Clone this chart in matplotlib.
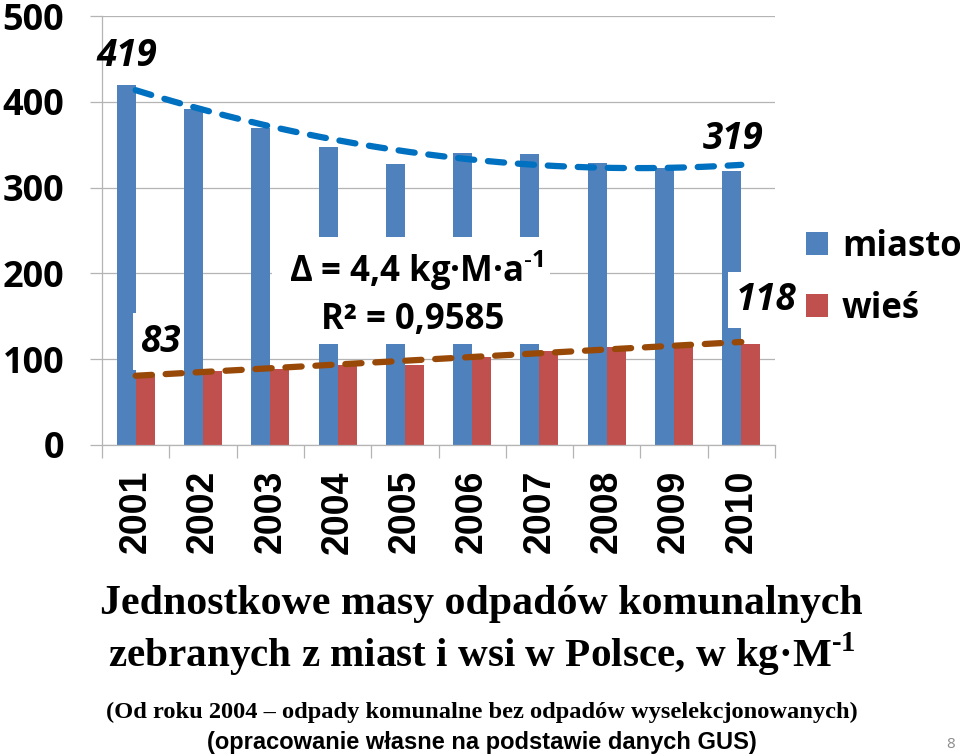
import numpy as np
import matplotlib
matplotlib.use('Agg')
import matplotlib.pyplot as plt
from matplotlib.patches import Rectangle

# ---- data ----
years = ['2001', '2002', '2003', '2004', '2005', '2006', '2007', '2008', '2009', '2010']
miasto = [419, 392, 369, 347, 328, 340, 339, 329, 323, 319]
wies = [83, 86, 88, 93, 93, 102, 110, 114, 117, 118]
y_ticks = [0, 100, 200, 300, 400, 500]
series_labels = ['miasto', 'wieś']
slope_text = 'Δ = 4,4 kg·M·a$^{\\mathregular{\u20101}}$'
r2_text = 'R² = 0,9585'
title1 = 'Jednostkowe masy odpadów komunalnych'
title2 = 'zebranych z miast i wsi w Polsce, w kg·M$^{\\mathregular{\u20101}}$'
subtitle = '(Od roku 2004 – odpady komunalne bez odpadów wyselekcjonowanych)'
source = '(opracowanie własne na podstawie danych GUS)'
page_no = '8'

BLUE = '#4F81BD'
RED = '#C0504D'
TBLUE = '#0070C0'
TBROWN = '#984807'
GRID = '#B4B4B4'

W, H = 960, 756
fig = plt.figure(figsize=(9.6, 7.56), dpi=100)


def fx(px):
    return px / W


def fy(py):
    return 1 - py / H


ax = fig.add_axes([fx(102), fy(445), (775 - 102) / W, (445 - 16) / H])
x = np.arange(len(years))
bw = 0.283
ax.bar(x - bw / 2, miasto, bw, color=BLUE, zorder=2, label=series_labels[0])
ax.bar(x + bw / 2, wies, bw, color=RED, zorder=2, label=series_labels[1])
ax.set_xlim(-0.5, len(years) - 0.5)
ax.set_ylim(0, 500)

# y axis
ax.set_yticks(y_ticks)
ax.set_yticklabels([str(v) for v in y_ticks], fontfamily='Open Sans',
                   fontweight='bold', fontsize=26)
ax.yaxis.grid(True, color=GRID, lw=0.9)
ax.set_axisbelow(True)
ax.tick_params(axis='y', length=8.6, width=0.9, color=GRID, pad=18.5)

# x axis: boundary ticks + centred labels
ax.set_xticks(np.arange(-0.5, len(years), 1))
ax.set_xticklabels([])
ax.set_xticks(x, minor=True)
ax.set_xticklabels(years, minor=True, rotation=90, fontfamily='Liberation Sans',
                   fontweight='bold', fontsize=27, va='top', ha='center')
ax.tick_params(axis='x', which='major', length=9.4, width=0.9, color=GRID)
ax.tick_params(axis='x', which='minor', length=0, pad=18)

for s in ['top', 'right']:
    ax.spines[s].set_visible(False)
for s in ['left', 'bottom']:
    ax.spines[s].set_color(GRID)
    ax.spines[s].set_linewidth(0.9)

# trend lines
xs = np.linspace(0, len(years) - 1, 200)
cb = np.polyfit(x, miasto, 2)
ax.plot(xs, np.polyval(cb, xs), color=TBLUE, lw=4.5, dashes=(2.6, 2.2),
        dash_capstyle='round', zorder=4)
cr = np.polyfit(x, wies, 1)
ax.plot(xs, np.polyval(cr, xs), color=TBROWN, lw=4.5, dashes=(2.6, 2.2),
        dash_capstyle='round', zorder=4)

# white label backgrounds (axes pixels -> fraction)
def mask(x0, y0, x1, y1):
    ax.add_patch(Rectangle(((x0 - 102) / 673, (445 - y1) / 429),
                           (x1 - x0) / 673, (y1 - y0) / 429,
                           transform=ax.transAxes, facecolor='white',
                           edgecolor='none', zorder=3, clip_on=False))

mask(133, 313, 184, 370)
mask(272, 237, 550, 344)
mask(728, 272, 800, 328)

# value labels
lab = dict(fontfamily='Open Sans', fontweight='bold', style='italic',
           fontsize=26.5, ha='center', va='center', zorder=6)
fig.text(fx(127), fy(56), str(miasto[0]), **lab)
fig.text(fx(160), fy(342), str(wies[0]), **lab)
fig.text(fx(733), fy(139), str(miasto[-1]), **lab)
fig.text(fx(766), fy(300), str(wies[-1]), **lab)

# regression text
reg = dict(fontfamily='Open Sans', fontweight='bold', fontsize=25,
           ha='center', va='center', zorder=6)
fig.text(fx(416), fy(270), slope_text, **reg)
fig.text(fx(413), fy(320), r2_text, **reg)

# legend
leg = fig.legend(loc='upper left', bbox_to_anchor=(fx(806), fy(229)),
                 frameon=False, prop=dict(family='Open Sans', weight='bold', size=25),
                 handlelength=0.63, handleheight=0.63, handletextpad=0.4,
                 labelspacing=0.75, borderpad=0, borderaxespad=0)

# titles
fig.text(fx(481), fy(604), title1, fontfamily='Liberation Serif',
         fontweight='bold', fontsize=30.2, ha='center', va='center')
fig.text(fx(482), fy(655), title2, fontfamily='Liberation Serif',
         fontweight='bold', fontsize=29.6, ha='center', va='center')
fig.text(fx(482), fy(712), subtitle, fontfamily='Liberation Serif',
         fontweight='bold', fontsize=17.6, ha='center', va='center')
fig.text(fx(482), fy(742), source, fontfamily=['Liberation Sans Narrow', 'Liberation Sans'],
         fontweight='bold', fontsize=17, ha='center', va='center')
fig.text(fx(951), fy(745), page_no, fontfamily='Open Sans', fontsize=11,
         color='#8C8C8C', ha='center', va='center')

fig.savefig('out.png', dpi=100, facecolor='white')
